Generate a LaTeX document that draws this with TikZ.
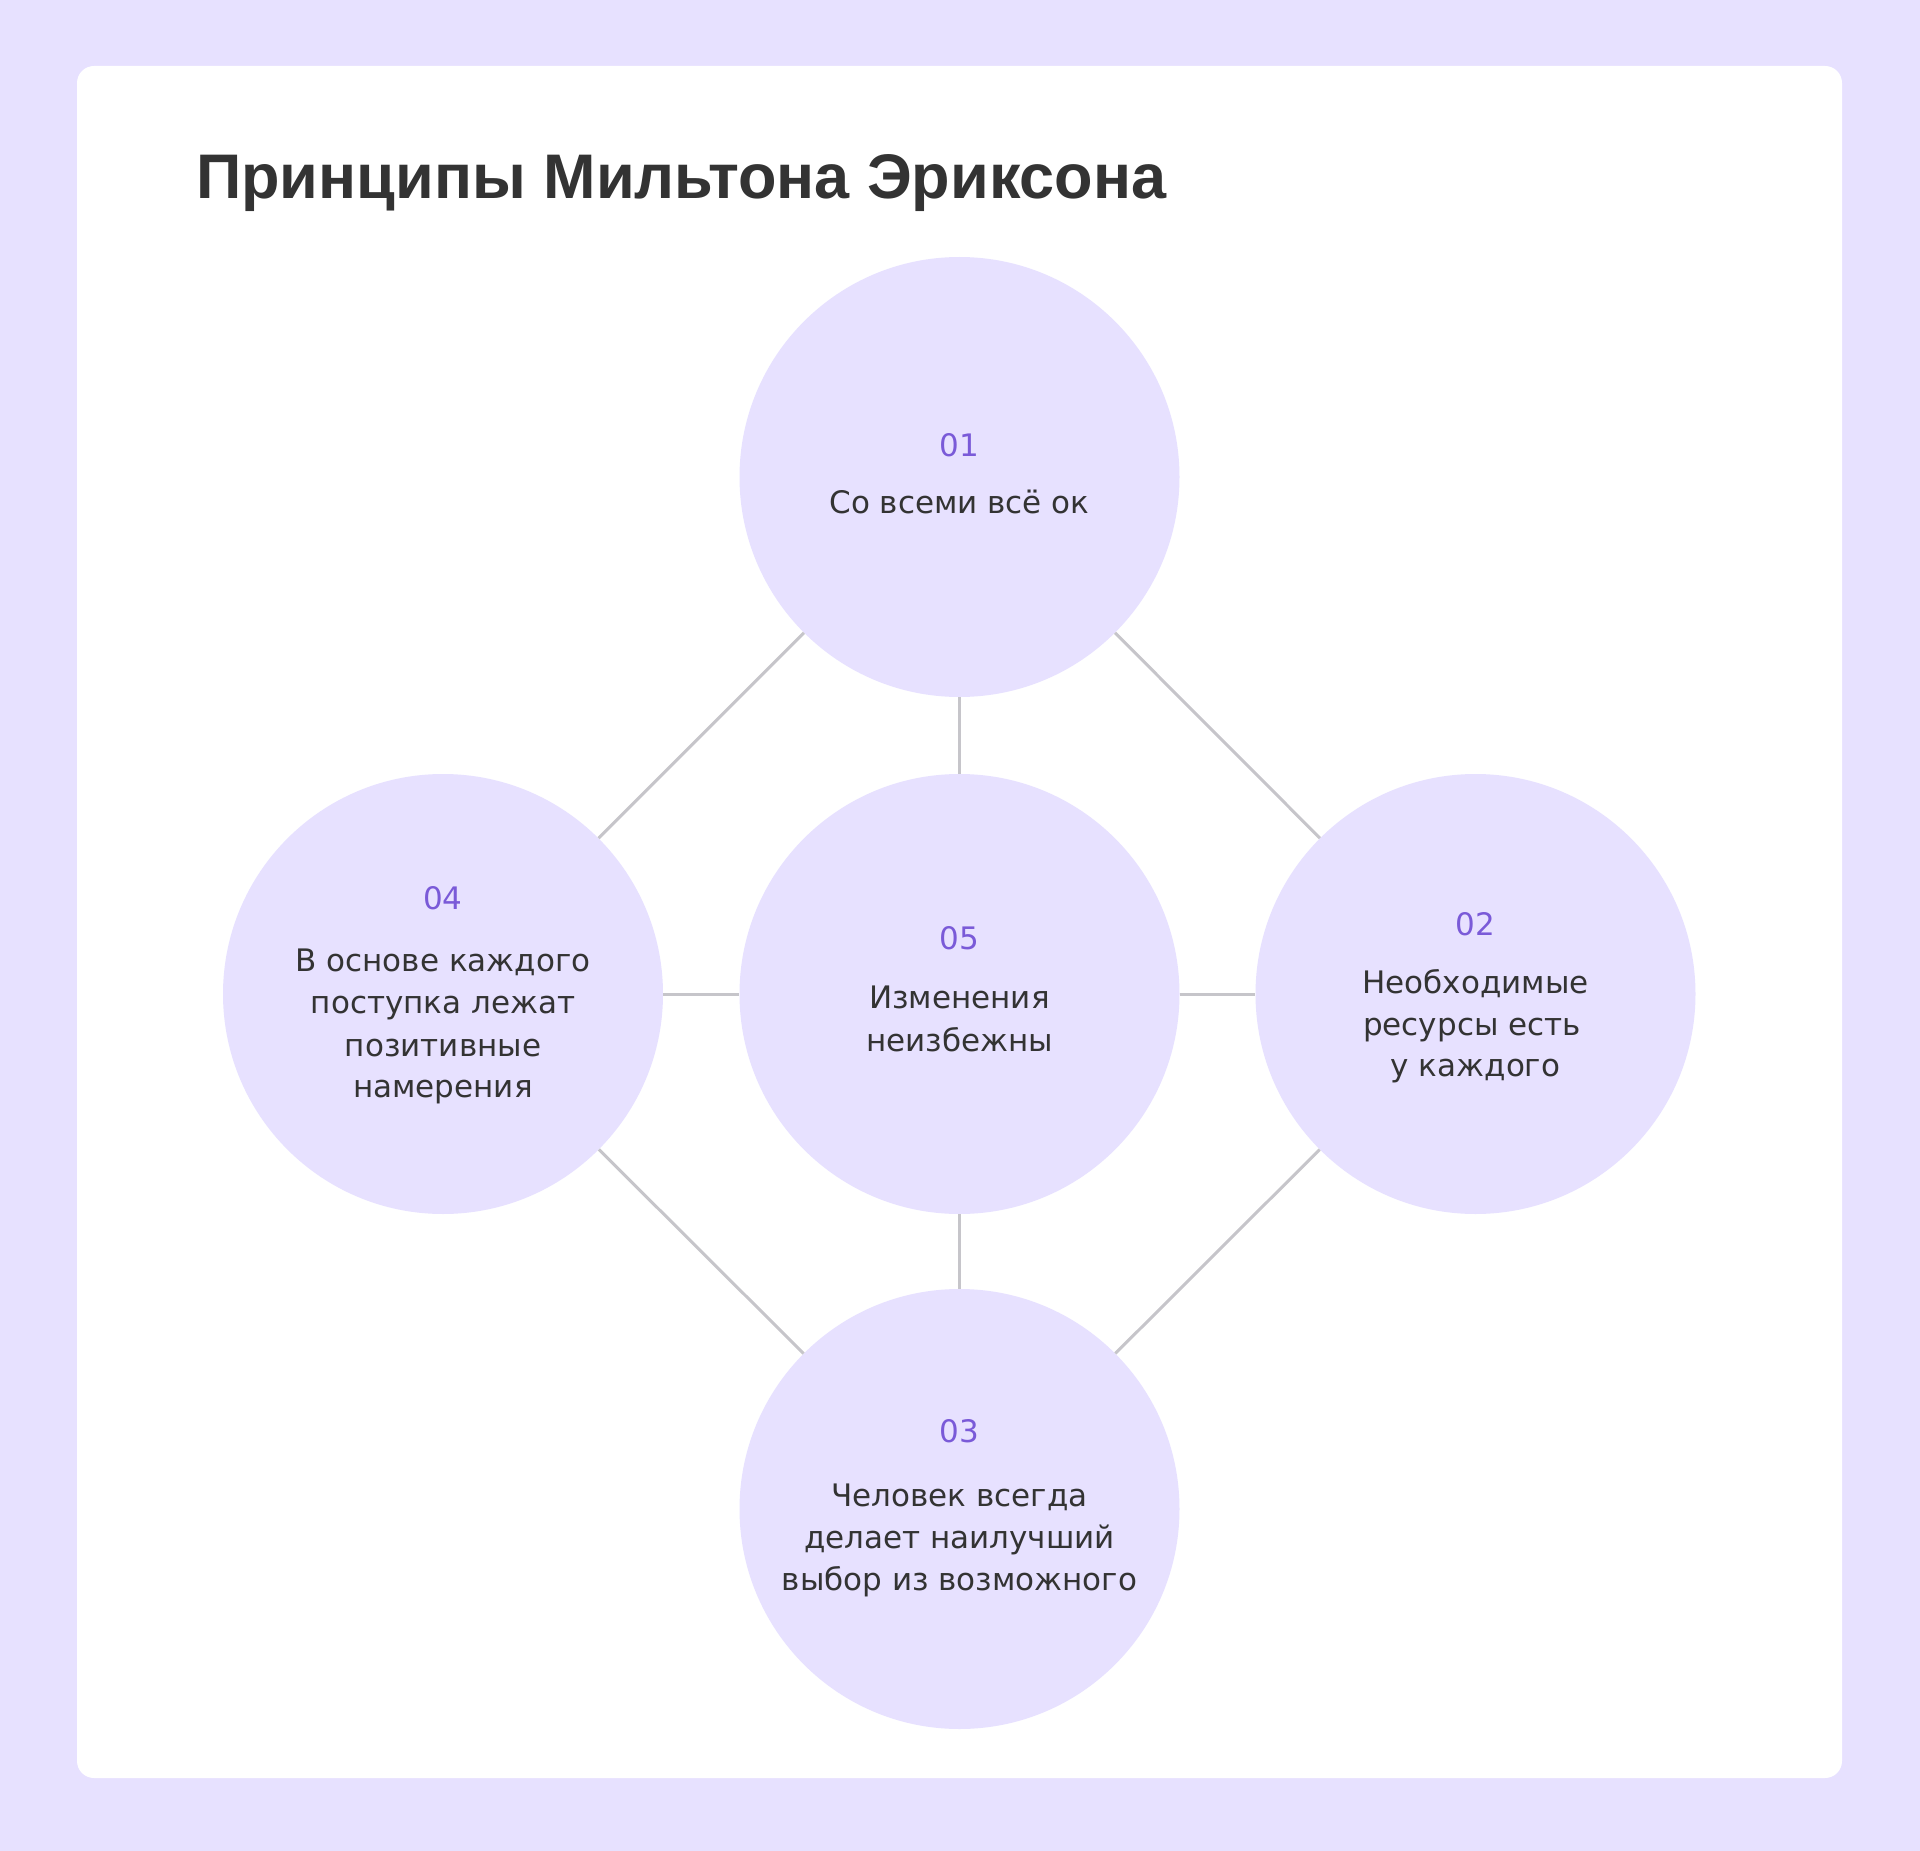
\documentclass[tikz,border=0pt]{standalone}
\usepackage{fontspec}
\setmainfont{Liberation Sans}
\newfontfamily\bodyfont{DejaVu Sans}
\definecolor{bgc}{HTML}{E7E1FF}
\definecolor{circfill}{HTML}{E7E1FF}
\definecolor{numc}{HTML}{7A5AD8}
\definecolor{txtc}{HTML}{333333}
\definecolor{linec}{HTML}{C6C5CA}
\tikzset{
  circ/.style={circle, fill=circfill, minimum size=440pt, inner sep=0pt},
  conn/.style={draw=linec, line width=3pt},
  numlbl/.style={anchor=base, inner sep=0pt, text=numc, font=\bodyfont\fontsize{31}{31}\selectfont},
  txtlbl/.style={anchor=base, inner sep=0pt, text=txtc, font=\bodyfont\fontsize{31}{31}\selectfont},
  titlelbl/.style={anchor=base west, inner sep=0pt, text=txtc, font=\fontsize{63}{70}\selectfont\bfseries}
}
\begin{document}
\begin{tikzpicture}[x=1pt,y=-1pt]
\fill[bgc] (0,0) rectangle (1920,1851);
\fill[white, rounded corners=17pt] (77,66) rectangle (1842,1778);
\useasboundingbox (0,0) rectangle (1920,1851);

\node[titlelbl] (title) at (196,199) {Принципы Мильтона Эриксона};

\node[circ] (c1) at (959.5,477) {};
\node[circ] (c4) at (443,994) {};
\node[circ] (c5) at (959.5,994) {};
\node[circ] (c2) at (1475.5,994) {};
\node[circ] (c3) at (959.5,1509) {};

\draw[conn] (c1) -- (c5);
\draw[conn] (c4) -- (c5);
\draw[conn] (c5) -- (c2);
\draw[conn] (c5) -- (c3);
\draw[conn] (c1) -- (c4);
\draw[conn] (c1) -- (c2);
\draw[conn] (c4) -- (c3);
\draw[conn] (c2) -- (c3);

% 01
\node[numlbl] (n1) at (959.5,456.7) {01};
\node[txtlbl] (t1a) at (959.5,513) {Со всеми всё ок};
% 05
\node[numlbl] (n5) at (959.5,949) {05};
\node[txtlbl] (t5a) at (959.5,1008) {Изменения};
\node[txtlbl] (t5b) at (959.5,1051) {неизбежны};
% 04
\node[numlbl] (n4) at (443,909) {04};
\node[txtlbl] (t4a) at (443,971.7) {В основе каждого};
\node[txtlbl] (t4b) at (443,1013.7) {поступка лежат};
\node[txtlbl] (t4c) at (443,1056) {позитивные};
\node[txtlbl] (t4d) at (443,1097.7) {намерения};
% 02
\node[numlbl] (n2) at (1475.5,935) {02};
\node[txtlbl] (t2a) at (1475.5,993) {Необходимые};
\node[txtlbl] (t2b) at (1472,1035) {ресурсы есть};
\node[txtlbl] (t2c) at (1475.5,1076.7) {у каждого};
% 03
\node[numlbl] (n3) at (959.5,1442) {03};
\node[txtlbl] (t3a) at (959.5,1506) {Человек всегда};
\node[txtlbl] (t3b) at (959.5,1548) {делает наилучший};
\node[txtlbl] (t3c) at (959.5,1590) {выбор из возможного};
\end{tikzpicture}
\end{document}
